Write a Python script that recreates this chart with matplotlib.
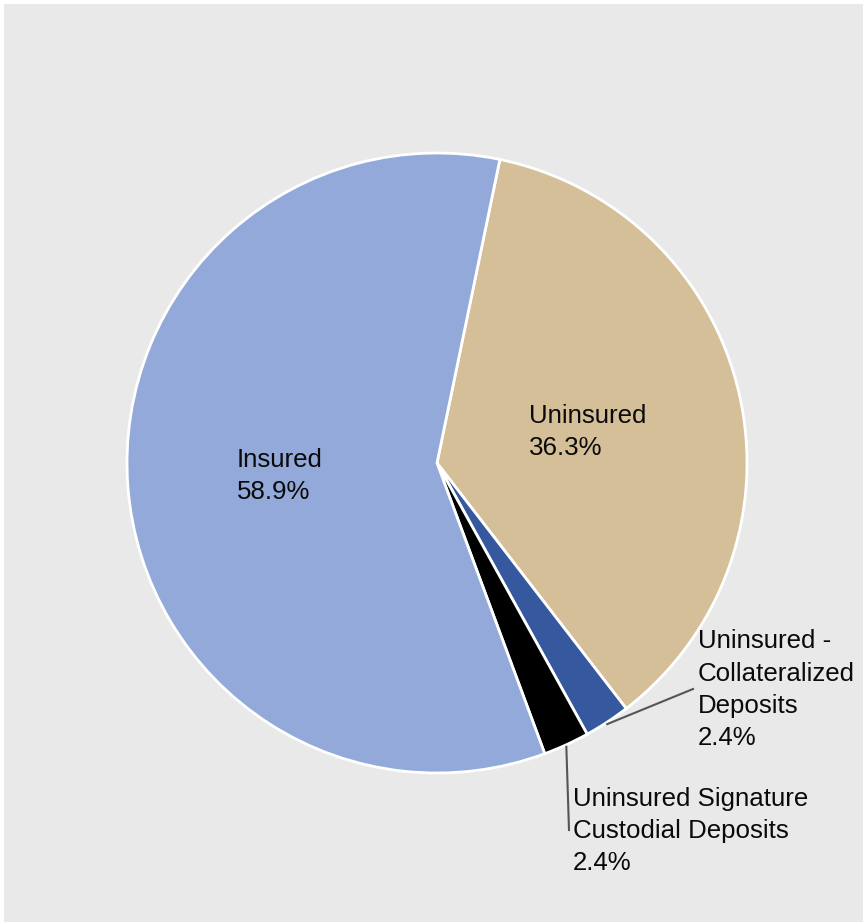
import numpy as np
import matplotlib
matplotlib.use("Agg")
import matplotlib.pyplot as plt
from matplotlib.patches import Rectangle

# Data
categories = ["Uninsured", "Uninsured - Collateralized Deposits",
              "Uninsured Signature Custodial Deposits", "Insured"]
shares = [36.3, 2.4, 2.4, 58.9]
colors = ["#d4bf99", "#35589f", "#000000", "#93a9d9"]
label_lines = [
    ["Uninsured", "36.3%"],
    ["Uninsured -", "Collateralized", "Deposits", "2.4%"],
    ["Uninsured Signature", "Custodial Deposits", "2.4%"],
    ["Insured", "58.9%"],
]

W, H = 863, 922
fig = plt.figure(figsize=(W / 100, H / 100), dpi=100)
fig.patch.set_facecolor("white")
ax = fig.add_axes([0, 0, 1, 1])
ax.set_xlim(0, W)
ax.set_ylim(0, H)
ax.set_aspect("equal")
ax.axis("off")

def Y(py):
    return H - py

ax.add_patch(Rectangle((4, 0), W - 4, H - 4, facecolor="#e9e9e9", edgecolor="none", zorder=0))

cx, cy, R = 437, Y(463), 310
start = 78.3
wedges, _ = ax.pie(shares, colors=colors, startangle=start, counterclock=False,
                   center=(cx, cy), radius=R, frame=True,
                   wedgeprops=dict(edgecolor="white", linewidth=2))
ax.set_xlim(0, W)
ax.set_ylim(0, H)
ax.axis("off")

font = dict(family=["Liberation Sans", "DejaVu Sans"], fontsize=18.6, color="#0a0a0a")

def put(lines, x, baselines):
    for t, b in zip(lines, baselines):
        ax.text(x, Y(b), t, ha="left", va="baseline", zorder=5, **font)

put(label_lines[0], 529, [423, 455])
put(label_lines[1], 698, [648, 681, 713, 745])
put(label_lines[2], 573, [806, 838, 870])
put(label_lines[3], 237, [467, 499])

# Leader lines from wedge mid-edge
def midpoint(w):
    ang = np.deg2rad((w.theta1 + w.theta2) / 2)
    return cx + R * np.cos(ang), cy + R * np.sin(ang)

x0, y0 = midpoint(wedges[1])
ax.plot([x0, 693], [y0 - 2, Y(689)], color="#555555", lw=1.5, zorder=4)
x1, y1 = midpoint(wedges[2])
ax.plot([x1, 569], [y1 - 2, Y(830)], color="#555555", lw=1.5, zorder=4)

fig.savefig("out.png", dpi=100, facecolor=fig.get_facecolor())
